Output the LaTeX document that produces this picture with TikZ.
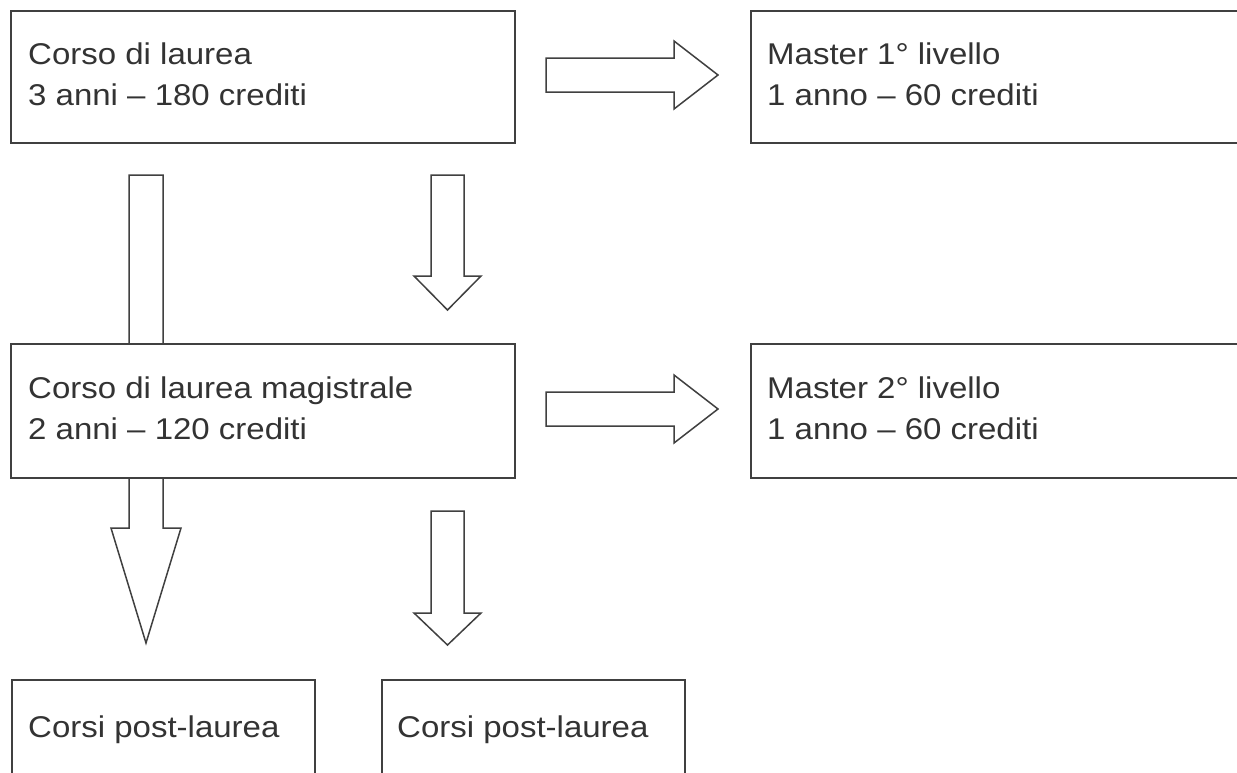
\documentclass[tikz,border=0pt]{standalone}
\usepackage{fontspec}
\setmainfont{Liberation Sans}[FakeStretch=1.1]
\begin{document}
\begin{tikzpicture}[x=1pt,y=-1pt,
  box/.style={draw=black!75,line width=1.5pt,fill=white,anchor=north west,inner sep=0pt},
  blk/.style={draw=black!75,line width=1.5pt,fill=white,line join=miter},
  lbl/.style={anchor=base west,inner sep=0pt,text=black!80,font=\fontsize{30}{36}\selectfont}]
\clip (0,0) rectangle (1237,772);
\fill[white] (0,0) rectangle (1237,772);
\newcommand\blockdown[6]{%
  \draw[blk] (#1-#5,#2) -- (#1+#5,#2) -- (#1+#5,#3) -- (#1+#6,#3) -- (#1,#4)
    -- (#1-#6,#3) -- (#1-#5,#3) -- cycle;}
\newcommand\blockright[6]{%
  \draw[blk] (#2,#1-#5) -- (#3,#1-#5) -- (#3,#1-#6) -- (#4,#1) -- (#3,#1+#6)
    -- (#3,#1+#5) -- (#2,#1+#5) -- cycle;}
% long arrow (behind box B)
\blockdown{146}{175}{528}{643}{17}{35}
% boxes
\node[box,minimum width=504pt,minimum height=132pt] (A) at (10,10) {};
\node[box,minimum width=560pt,minimum height=132pt] (M1) at (750,10) {};
\node[box,minimum width=504pt,minimum height=134pt] (B) at (10,343) {};
\node[box,minimum width=560pt,minimum height=134pt] (M2) at (750,343) {};
\node[box,minimum width=303pt,minimum height=140pt] (C) at (11,679) {};
\node[box,minimum width=303pt,minimum height=140pt] (D) at (381,679) {};
% texts
\node[lbl] (A1) at (28,64) {Corso di laurea};
\node[lbl] (A2) at (28,105) {3 anni – 180 crediti};
\node[lbl] (M11) at (767,64) {Master 1° livello};
\node[lbl] (M12) at (767,105) {1 anno – 60 crediti};
\node[lbl] (B1) at (28,398) {Corso di laurea magistrale};
\node[lbl] (B2) at (28,439) {2 anni – 120 crediti};
\node[lbl] (M21) at (767,398) {Master 2° livello};
\node[lbl] (M22) at (767,439) {1 anno – 60 crediti};
\node[lbl] (C1) at (28,737) {Corsi post-laurea};
\node[lbl] (D1) at (397,737) {Corsi post-laurea};
% other arrows
\blockdown{447.5}{175}{276}{310}{16.5}{33.5}
\blockdown{447.5}{511}{613}{645}{16.5}{33.5}
\blockright{75}{546}{674}{718}{17}{34}
\blockright{409}{546}{674}{718}{17}{34}
\end{tikzpicture}
\end{document}
